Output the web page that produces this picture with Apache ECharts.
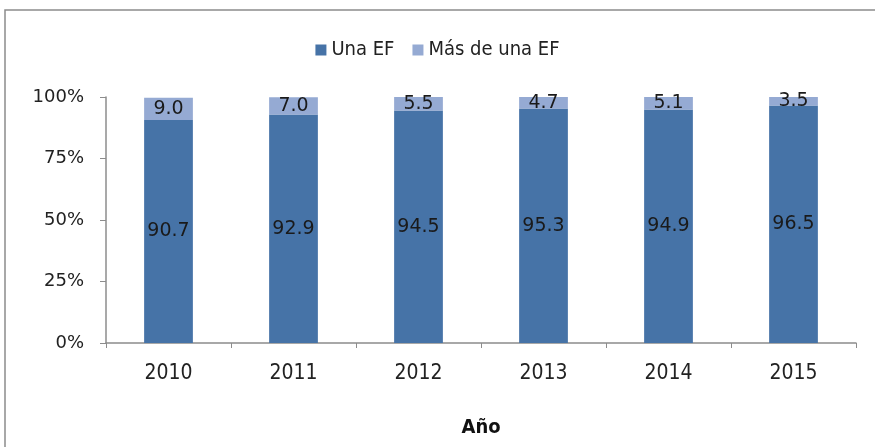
<!DOCTYPE html>
<html>
<head>
<meta charset="utf-8">
<script src="https://cdn.jsdelivr.net/npm/echarts@6/dist/echarts.min.js"></script>
<style>
  html, body { margin: 0; padding: 0; background: #fff; }
  #chart { width: 875px; height: 447px; }
</style>
</head>
<body>
<div id="chart"></div>
<script>
// datos
var years = ["2010", "2011", "2012", "2013", "2014", "2015"];
var unaEF = [90.7, 92.9, 94.5, 95.3, 94.9, 96.5];
var masDeUnaEF = [9.0, 7.0, 5.5, 4.7, 5.1, 3.5];
var yTicks = [0, 25, 50, 75, 100];

var narrow = "'DejaVu Sans Condensed', 'Liberation Sans', sans-serif";

var chart = echarts.init(document.getElementById("chart"));

var labelStyle = {
  show: true,
  position: "inside",
  color: "#1a1a1a",
  fontSize: 19,
  fontFamily: "DejaVu Sans",
  formatter: function (p) { return p.value.toFixed(1); }
};

var option = {
  animation: false,
  graphic: [
    {
      type: "rect",
      shape: { x: 5, y: 10, width: 900, height: 500 },
      style: { fill: "none", stroke: "#8c8c8c", lineWidth: 1.5 }
    }
  ],
  legend: {
    top: 35,
    left: "center",
    itemWidth: 11,
    itemHeight: 11,
    itemGap: 18,
    icon: "rect",
    textStyle: { fontSize: 20, fontFamily: narrow, color: "#222" },
    data: ["Una EF", "Más de una EF"]
  },
  grid: { left: 106, right: 19, top: 97, bottom: 104 },
  xAxis: {
    type: "category",
    data: years,
    name: "Año",
    nameLocation: "middle",
    nameGap: 75,
    nameTextStyle: { fontSize: 20, fontWeight: "bold", fontFamily: narrow, color: "#111" },
    axisLine: { lineStyle: { color: "#8c8c8c", width: 1.5 } },
    axisTick: { show: true, length: 5, lineStyle: { color: "#8c8c8c" } },
    axisLabel: { fontSize: 21, margin: 20, fontFamily: narrow, color: "#222" }
  },
  yAxis: {
    type: "value",
    min: 0,
    max: 100,
    interval: 25,
    axisLine: { show: true, lineStyle: { color: "#8c8c8c", width: 1.5 } },
    axisTick: { show: true, length: 6, lineStyle: { color: "#8c8c8c" } },
    splitLine: { show: false },
    axisLabel: {
      fontSize: 18,
      margin: 22,
      fontFamily: "DejaVu Sans",
      color: "#222",
      formatter: function (v) { return yTicks.indexOf(v) >= 0 ? v + "%" : ""; }
    }
  },
  series: [
    {
      name: "Una EF",
      type: "bar",
      stack: "total",
      barWidth: "39%",
      data: unaEF,
      itemStyle: { color: "#4673a7" },
      label: labelStyle
    },
    {
      name: "Más de una EF",
      type: "bar",
      stack: "total",
      data: masDeUnaEF,
      itemStyle: { color: "#95aad3" },
      label: labelStyle
    }
  ]
};

chart.setOption(option);
window.addEventListener("resize", function () { chart.resize(); });
</script>
</body>
</html>
